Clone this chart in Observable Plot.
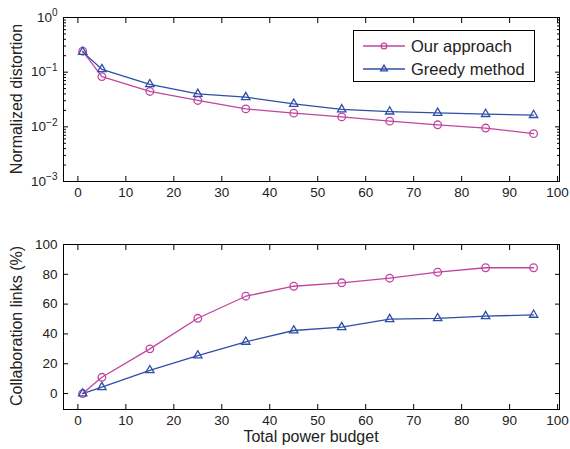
<!DOCTYPE html>
<html>
<head>
<meta charset="utf-8">
<script src="https://cdn.jsdelivr.net/npm/d3@7"></script>
<script src="https://cdn.jsdelivr.net/npm/@observablehq/plot@0.6"></script>
<style>
  html, body { margin: 0; padding: 0; background: #fff; }
  #chart { position: relative; width: 570px; height: 449px; font-family: "Liberation Sans", Arial, sans-serif; }
  #chart > svg { position: absolute; left: 0; overflow: visible; }
  .ylab { position: absolute; font-size: 16px; color: #222; transform: translate(-50%, -50%) rotate(-90deg); white-space: nowrap; }
  .xlab { position: absolute; font-size: 16px; color: #222; transform: translate(-50%, -50%); white-space: nowrap; }
  #legend { position: absolute; left: 353px; top: 30px; width: 182px; height: 52px; border: 1px solid #000; background: #fff; box-sizing: border-box; }
  #legend .row { position: absolute; left: 0; height: 22px; display: flex; align-items: center; font-size: 16.5px; color: #222; }
  #legend .row svg { position: static; margin-left: 9px; margin-right: 6px; }
</style>
</head>
<body>
<div id="chart"></div>
<script>
// ---- data ----
const budget = [1, 5, 15, 25, 35, 45, 55, 65, 75, 85, 95];
const seriesNames = ["Our approach", "Greedy method"];
const distortionOurs = [0.242, 0.083, 0.0444, 0.0304, 0.0213, 0.0178, 0.0152, 0.0127, 0.0109, 0.0095, 0.0075];
const distortionGreedy = [0.235, 0.113, 0.060, 0.040, 0.0349, 0.0263, 0.0208, 0.019, 0.018, 0.0171, 0.0164];
const linksOurs = [0, 10.9, 30, 50.5, 65.3, 72, 74.3, 77.4, 81.4, 84.4, 84.4];
const linksGreedy = [0, 4.3, 15.6, 25.5, 34.7, 42.3, 44.5, 49.9, 50.5, 51.9, 52.8];
const xTicks = [0, 10, 20, 30, 40, 50, 60, 70, 80, 90, 100];
const logTicks = [1e-3, 1e-2, 1e-1, 1];
const linTicks = [0, 20, 40, 60, 80, 100];
const colors = ["#c0459f", "#2f4ea8"];
const symbols = ["circle", "triangle"];
const markerR = [3.8, 3.1];

const logMinor = [];
for (let e = -3; e < 0; e++) for (let m = 2; m <= 9; m++) logMinor.push(m * Math.pow(10, e));

function toRows(a, b) {
  return budget.flatMap((x, i) => [
    {x, y: a[i], s: seriesNames[0]},
    {x, y: b[i], s: seriesNames[1]}
  ]);
}

const W = 570, ML = 63, MR = 11;
const font = "Liberation Sans, Arial, sans-serif";
const ink = "#222";

function panel({rows, yType, yDomain, yTicks, yMinor, height, mt, mb, yFormat}) {
  const marks = [
    Plot.frame({stroke: "#000", strokeWidth: 1}),
    Plot.axisX(xTicks, {anchor: "bottom", tickSize: -5, text: null, label: null, stroke: "#000"}),
    Plot.axisX(xTicks, {anchor: "top", tickSize: -5, text: null, label: null, stroke: "#000"}),
    Plot.axisY(yTicks, {anchor: "left", tickSize: -5, text: null, label: null, stroke: "#000"}),
    Plot.axisY(yTicks, {anchor: "right", tickSize: -5, text: null, label: null, stroke: "#000"}),
    Plot.axisX(xTicks, {anchor: "bottom", tickSize: 0, tickPadding: 6, fontSize: 13.5, fill: ink, label: null, tickFormat: d => String(d)}),
    Plot.axisY(yTicks, {anchor: "left", tickSize: 0, tickPadding: 6, fontSize: 13.5, fill: ink, label: null, tickFormat: yFormat}),
  ];
  if (yMinor) {
    marks.push(Plot.axisY(yMinor, {anchor: "left", tickSize: -3, text: null, label: null, stroke: "#000"}));
    marks.push(Plot.axisY(yMinor, {anchor: "right", tickSize: -3, text: null, label: null, stroke: "#000"}));
  }
  marks.push(Plot.line(rows, {x: "x", y: "y", z: "s", stroke: "s", strokeWidth: 1.3}));
  seriesNames.forEach((name, i) => {
    marks.push(Plot.dot(rows.filter(d => d.s === name), {x: "x", y: "y", stroke: colors[i], symbol: symbols[i], r: markerR[i], strokeWidth: 1.3, fill: "none"}));
  });
  return Plot.plot({
    width: W, height,
    marginLeft: ML, marginRight: MR, marginTop: mt, marginBottom: mb,
    style: {fontFamily: font, background: "transparent", overflow: "visible"},
    x: {domain: [-3, 100.4], axis: null},
    y: {type: yType, domain: yDomain, axis: null},
    color: {domain: seriesNames, range: colors},
    marks
  });
}

const chart = document.getElementById("chart");

const topPlot = panel({
  rows: toRows(distortionOurs, distortionGreedy),
  yType: "log", yDomain: [1e-3, 1], yTicks: logTicks, yMinor: logMinor,
  height: 200, mt: 17, mb: 19,
  yFormat: d => "10^" + Math.round(Math.log10(d))
});
topPlot.style.top = "0px";
chart.appendChild(topPlot);

d3.select(topPlot).selectAll('g[aria-label="y-axis tick label"] text').each(function () {
  const t = this.textContent;
  if (!t.includes("^")) return;
  const [b, e] = t.split("^");
  const s = d3.select(this);
  s.text(b);
  s.append("tspan").attr("dy", "-0.55em").attr("font-size", "10px").text(e.replace("-", "−"));
});

const bottomPlot = panel({
  rows: toRows(linksOurs, linksGreedy),
  yType: "linear", yDomain: [-10.7, 100], yTicks: linTicks, yMinor: null,
  height: 249, mt: 44, mb: 40,
  yFormat: d => String(d)
});
bottomPlot.style.top = "200px";
chart.appendChild(bottomPlot);

function label(cls, text, x, y) {
  const d = document.createElement("div");
  d.className = cls; d.textContent = text;
  d.style.left = x + "px"; d.style.top = y + "px";
  chart.appendChild(d);
}
label("ylab", "Normalized distortion", 17, 99);
label("ylab", "Collaboration links (%)", 17, 326);
label("xlab", "Total power budget", 311, 437);

const legend = document.createElement("div");
legend.id = "legend";
chart.appendChild(legend);
seriesNames.forEach((name, i) => {
  const row = document.createElement("div");
  row.className = "row";
  row.style.top = (4 + i * 23) + "px";
  const sv = d3.create("svg").attr("width", 42).attr("height", 14);
  sv.append("line").attr("x1", 0).attr("x2", 42).attr("y1", 7).attr("y2", 7)
    .attr("stroke", colors[i]).attr("stroke-width", 1.3);
  const sym = i === 0 ? d3.symbolCircle : d3.symbolTriangle;
  sv.append("path").attr("d", d3.symbol(sym, i === 0 ? 26 : 20)())
    .attr("transform", "translate(21,7)")
    .attr("fill", "none").attr("stroke", colors[i]).attr("stroke-width", 1.3);
  row.appendChild(sv.node());
  const span = document.createElement("span");
  span.textContent = name;
  row.appendChild(span);
  legend.appendChild(row);
});
</script>
</body>
</html>
